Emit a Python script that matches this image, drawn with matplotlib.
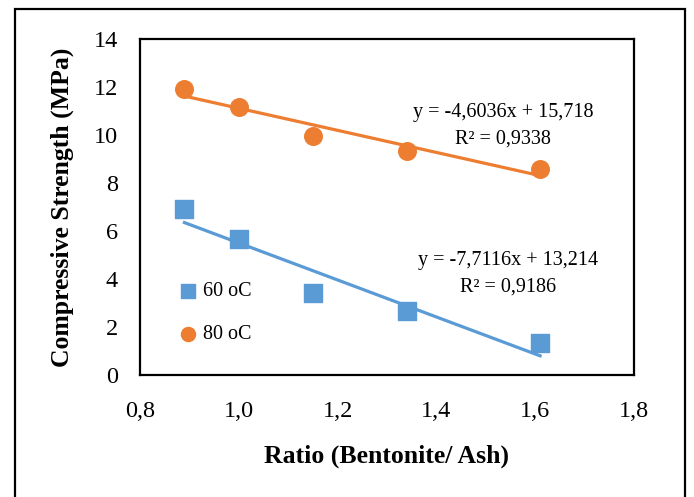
import matplotlib
matplotlib.use('Agg')
import matplotlib.pyplot as plt
import numpy as np
from matplotlib.patches import Rectangle

# ---- data ----
ratio = [0.89, 1.00, 1.15, 1.34, 1.61]
strength_60 = [6.9, 5.65, 3.4, 2.65, 1.35]
strength_80 = [11.9, 11.15, 9.95, 9.35, 8.6]

# trendline coefficients printed on the chart
fit_60 = (-7.7116, 13.214)
fit_80 = (-4.6036, 15.718)
eq_60 = ['y = -7,7116x + 13,214', 'R² = 0,9186']
eq_80 = ['y = -4,6036x + 15,718', 'R² = 0,9338']

x_ticks = [0.8, 1.0, 1.2, 1.4, 1.6, 1.8]
y_ticks = [0, 2, 4, 6, 8, 10, 12, 14]

BLUE = '#5B9BD5'
ORANGE = '#ED7D31'

plt.rcParams['font.family'] = ['Liberation Serif', 'DejaVu Serif']

W, H = 694, 497
fig = plt.figure(figsize=(W / 100, H / 100), dpi=100)
ax = fig.add_axes([140 / W, 1 - 375 / H, 494 / W, 336 / H])

# outer frame (bottom edge falls outside the picture)
fig.patches.append(Rectangle((15 / W, -0.1), 670 / W, 1.1 - 9 / H,
                             transform=fig.transFigure, fill=False,
                             edgecolor='black', lw=1.6, clip_on=False))

ax.scatter(ratio, strength_60, marker='s', s=150, color=BLUE, label='60 oC', zorder=2)
ax.scatter(ratio, strength_80, marker='o', s=160, color=ORANGE, label='80 oC', zorder=2)

xs = np.array([min(ratio), max(ratio)])
ax.plot(xs, fit_60[0] * xs + fit_60[1], color=BLUE, lw=2.3, zorder=3)
ax.plot(xs, fit_80[0] * xs + fit_80[1], color=ORANGE, lw=2.3, zorder=3)

ax.text(1.535, 10.95, eq_80[0], ha='center', va='center', fontsize=14.5)
ax.text(1.535, 9.85, eq_80[1], ha='center', va='center', fontsize=14.5)
ax.text(1.545, 4.75, eq_60[0], ha='center', va='center', fontsize=14.5)
ax.text(1.545, 3.65, eq_60[1], ha='center', va='center', fontsize=14.5)

ax.set_xlim(0.8, 1.8)
ax.set_ylim(0, 14)
ax.set_xticks(x_ticks)
ax.set_yticks(y_ticks)
ax.set_xticklabels([f'{v:.1f}'.replace('.', ',') for v in x_ticks])
ax.set_yticklabels([str(v) for v in y_ticks])
ax.tick_params(length=0, labelsize=17.5)
ax.tick_params(axis='y', pad=16)
ax.tick_params(axis='x', pad=19)
for sp in ax.spines.values():
    sp.set_linewidth(1.6)

ax.set_xlabel('Ratio (Bentonite/ Ash)', fontsize=18.5, fontweight='bold', labelpad=16)
ax.set_ylabel('Compressive Strength (MPa)', fontsize=18.5, fontweight='bold', labelpad=14)

leg = ax.legend(loc='upper left', bbox_to_anchor=(168 / W, 1 - 272 / H),
                bbox_transform=fig.transFigure, frameon=False, fontsize=14.5,
                handletextpad=0.25, labelspacing=1.2, borderpad=0,
                markerscale=0.8, handlelength=1.0)

fig.savefig('out.png', dpi=100)
